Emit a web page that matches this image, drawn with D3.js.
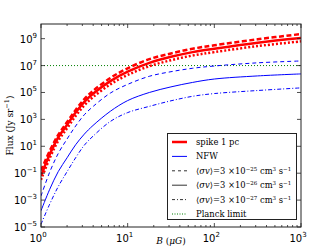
<!DOCTYPE html>
<html>
<head>
<meta charset="utf-8">
<script src="https://cdn.jsdelivr.net/npm/d3@7"></script>
<style>
  body { margin: 0; background: #fff; }
  svg { display: block; }
  .tick-label { font-family: 'DejaVu Sans', sans-serif; font-size: 10px; fill: #000; }
  .serif { font-family: 'DejaVu Serif', 'Liberation Serif', serif; fill: #000; }
</style>
</head>
<body>
<svg id="chart" width="334" height="252"></svg>
<script>
// magnetic field B (uG)
var bField = [1, 1.26, 1.58, 2, 2.51, 3.16, 3.98, 6.31, 10, 17.8, 31.6, 56.2, 100, 316, 1000];

// flux (Jy sr^-1), spike 1 pc
var spikeHigh = [1.6e-1, 4.5e0, 7e1, 6.3e2, 5e3, 3.2e4, 1.3e5, 1.2e6, 6.3e6, 3e7, 8e7, 1.8e8, 3.2e8, 9e8, 2.2e9];
var spikeMid = [6.3e-2, 2.5e0, 4.5e1, 4e2, 3.2e3, 2e4, 8e4, 7e5, 3.5e6, 1.6e7, 4.5e7, 1e8, 1.8e8, 5e8, 1.1e9];
var spikeLow = [3.2e-2, 1.3e0, 2.5e1, 2.2e2, 1.8e3, 1.1e4, 4.5e4, 4e5, 2e6, 9e6, 2.5e7, 5.6e7, 1e8, 2.8e8, 6.3e8];

// flux (Jy sr^-1), NFW
var nfwHigh = [2e-3, 1.2e-1, 2.9e0, 3.5e1, 3.2e2, 2.2e3, 9e3, 9e4, 4e5, 1.6e6, 3.5e6, 6.3e6, 9.3e6, 1.6e7, 2.2e7];
var nfwMid = [1.6e-4, 6.3e-3, 1.3e-1, 1.4e0, 1.3e1, 8e1, 3.5e2, 4e3, 2.5e4, 1e5, 2.6e5, 5.6e5, 1e6, 1.7e6, 2.4e6];
var nfwLow = [1.6e-5, 5e-4, 1e-2, 1.3e-1, 1.4e0, 1.2e1, 5.6e1, 7e2, 3.2e3, 9.3e3, 2.4e4, 5.2e4, 8.3e4, 1.4e5, 2.2e5];

var planckLimit = 1e7;

var xTicks = [1, 10, 100, 1000];
var xTickExp = ['0', '1', '2', '3'];
var yTicks = [1e9, 1e7, 1e5, 1e3, 1e1, 1e-1, 1e-3, 1e-5];
var yTickExp = ['9', '7', '5', '3', '1', '\u22121', '\u22123', '\u22125'];

var legendLabels = ['spike 1 pc', 'NFW', '\u221225', '\u221226', '\u221227', 'Planck limit'];

var svg = d3.select('#chart');
var borders = { left: 41, right: 33, top: 24, bottom: 25 };
var svgWidth = 334;
var svgHeight = 252;
var innerRight = svgWidth - borders.right;
var innerBottom = svgHeight - borders.bottom;

var xScale = d3.scaleLog()
  .domain([1, 1000])
  .range([borders.left, innerRight]);

var yScale = d3.scaleLog()
  .domain([1e-5, 1.23e10])
  .range([innerBottom, borders.top]);

svg.append('clipPath')
  .attr('id', 'clip')
  .append('rect')
  .attr('x', borders.left)
  .attr('y', borders.top)
  .attr('width', innerRight - borders.left)
  .attr('height', innerBottom - borders.top);

var plot = svg.append('g').attr('clip-path', 'url(#clip)');

// planck limit
plot.append('line')
  .attr('x1', borders.left)
  .attr('x2', innerRight)
  .attr('y1', yScale(planckLimit))
  .attr('y2', yScale(planckLimit))
  .attr('stroke', '#008000')
  .attr('stroke-width', 1)
  .attr('stroke-dasharray', '1,2');

var line = d3.line()
  .x(function (d, i) { return xScale(bField[i]); })
  .y(function (d) { return yScale(d); })
  .curve(d3.curveCatmullRom.alpha(0.5));

var series = [
  { data: nfwHigh, color: 'blue', width: 1, dash: '4,3' },
  { data: nfwMid, color: 'blue', width: 1, dash: null },
  { data: nfwLow, color: 'blue', width: 1, dash: '4,2,1,2' },
  { data: spikeHigh, color: 'red', width: 2.5, dash: '5,2.5' },
  { data: spikeLow, color: 'red', width: 2.5, dash: '2,2' },
  { data: spikeMid, color: 'red', width: 2.5, dash: null }
];

series.forEach(function (s) {
  plot.append('path')
    .datum(s.data)
    .attr('d', line)
    .attr('fill', 'none')
    .attr('stroke', s.color)
    .attr('stroke-width', s.width)
    .attr('stroke-dasharray', s.dash);
});

// frame
svg.append('rect')
  .attr('x', borders.left)
  .attr('y', borders.top)
  .attr('width', innerRight - borders.left)
  .attr('height', innerBottom - borders.top)
  .attr('fill', 'none')
  .attr('stroke', '#222')
  .attr('stroke-width', 1);

var ticks = svg.append('g').attr('stroke', '#222').attr('stroke-width', 0.8);

// x ticks, major and minor, bottom and top
var xMinor = [];
[1, 10, 100].forEach(function (dec) {
  for (var m = 2; m < 10; m++) xMinor.push(dec * m);
});

xTicks.forEach(function (t) {
  var x = xScale(t);
  ticks.append('line').attr('x1', x).attr('x2', x).attr('y1', innerBottom).attr('y2', innerBottom - 4);
  ticks.append('line').attr('x1', x).attr('x2', x).attr('y1', borders.top).attr('y2', borders.top + 4);
});

xMinor.forEach(function (t) {
  var x = xScale(t);
  ticks.append('line').attr('x1', x).attr('x2', x).attr('y1', innerBottom).attr('y2', innerBottom - 2);
  ticks.append('line').attr('x1', x).attr('x2', x).attr('y1', borders.top).attr('y2', borders.top + 2);
});

yTicks.forEach(function (t) {
  var y = yScale(t);
  ticks.append('line').attr('x1', borders.left).attr('x2', borders.left + 4).attr('y1', y).attr('y2', y);
  ticks.append('line').attr('x1', innerRight).attr('x2', innerRight - 4).attr('y1', y).attr('y2', y);
});

// tick labels
xTicks.forEach(function (t, i) {
  var txt = svg.append('text')
    .attr('class', 'tick-label')
    .attr('x', xScale(t) - 3)
    .attr('y', innerBottom + 15)
    .attr('text-anchor', 'middle');
  txt.append('tspan').text('10');
  txt.append('tspan').attr('dy', -5).style('font-size', '7px').text(xTickExp[i]);
});

yTicks.forEach(function (t, i) {
  var txt = svg.append('text')
    .attr('class', 'tick-label')
    .attr('x', borders.left - 4)
    .attr('y', yScale(t) + 4)
    .attr('text-anchor', 'end');
  txt.append('tspan').text('10');
  txt.append('tspan').attr('dy', -5).style('font-size', '7px').text(yTickExp[i]);
});

// axis labels
var xLabel = svg.append('text')
  .attr('class', 'serif')
  .attr('x', (borders.left + innerRight) / 2)
  .attr('y', svgHeight - 8)
  .attr('text-anchor', 'middle')
  .style('font-size', '9px');
xLabel.append('tspan').style('font-style', 'italic').text('B');
xLabel.append('tspan').text(' (');
xLabel.append('tspan').style('font-style', 'italic').text('\u03bcG');
xLabel.append('tspan').text(')');

var yLabel = svg.append('text')
  .attr('class', 'serif')
  .attr('transform', 'translate(13,' + ((borders.top + innerBottom) / 2) + ') rotate(-90)')
  .attr('text-anchor', 'middle')
  .style('font-size', '9px');
yLabel.append('tspan').text('Flux (Jy sr');
yLabel.append('tspan').attr('dy', -4).style('font-size', '6.5px').text('\u22121');
yLabel.append('tspan').attr('dy', 4).text(')');

// legend
var legend = svg.append('g');
legend.append('rect')
  .attr('x', 167.5)
  .attr('y', 133.5)
  .attr('width', 129)
  .attr('height', 86)
  .attr('fill', '#fff')
  .attr('stroke', '#222')
  .attr('stroke-width', 1);

var legendStyle = [
  { color: 'red', width: 2.5, dash: null },
  { color: 'blue', width: 1, dash: null },
  { color: '#333', width: 1, dash: '3,3' },
  { color: '#333', width: 1, dash: null },
  { color: '#333', width: 1, dash: '3,2,1,2' },
  { color: '#008000', width: 1, dash: '1,1.5' }
];

legendLabels.forEach(function (lab, i) {
  var y = 142 + i * 14.4;
  var st = legendStyle[i];
  legend.append('line')
    .attr('x1', 172)
    .attr('x2', 187)
    .attr('y1', y)
    .attr('y2', y)
    .attr('stroke', st.color)
    .attr('stroke-width', st.width)
    .attr('stroke-dasharray', st.dash);

  var txt = legend.append('text')
    .attr('class', 'serif')
    .attr('x', 196)
    .attr('y', y + 3)
    .style('font-size', '8.4px');

  if (i >= 2 && i <= 4) {
    txt.append('tspan').text('\u27e8');
    txt.append('tspan').style('font-style', 'italic').text('\u03c3v');
    txt.append('tspan').text('\u27e9=3 \u00d710');
    txt.append('tspan').attr('dy', -3).style('font-size', '5.5px').text(lab);
    txt.append('tspan').attr('dy', 3).text(' cm');
    txt.append('tspan').attr('dy', -3).style('font-size', '5.5px').text('3');
    txt.append('tspan').attr('dy', 3).text(' s');
    txt.append('tspan').attr('dy', -3).style('font-size', '5.5px').text('\u22121');
  } else {
    txt.text(lab);
  }
});
</script>
</body>
</html>
